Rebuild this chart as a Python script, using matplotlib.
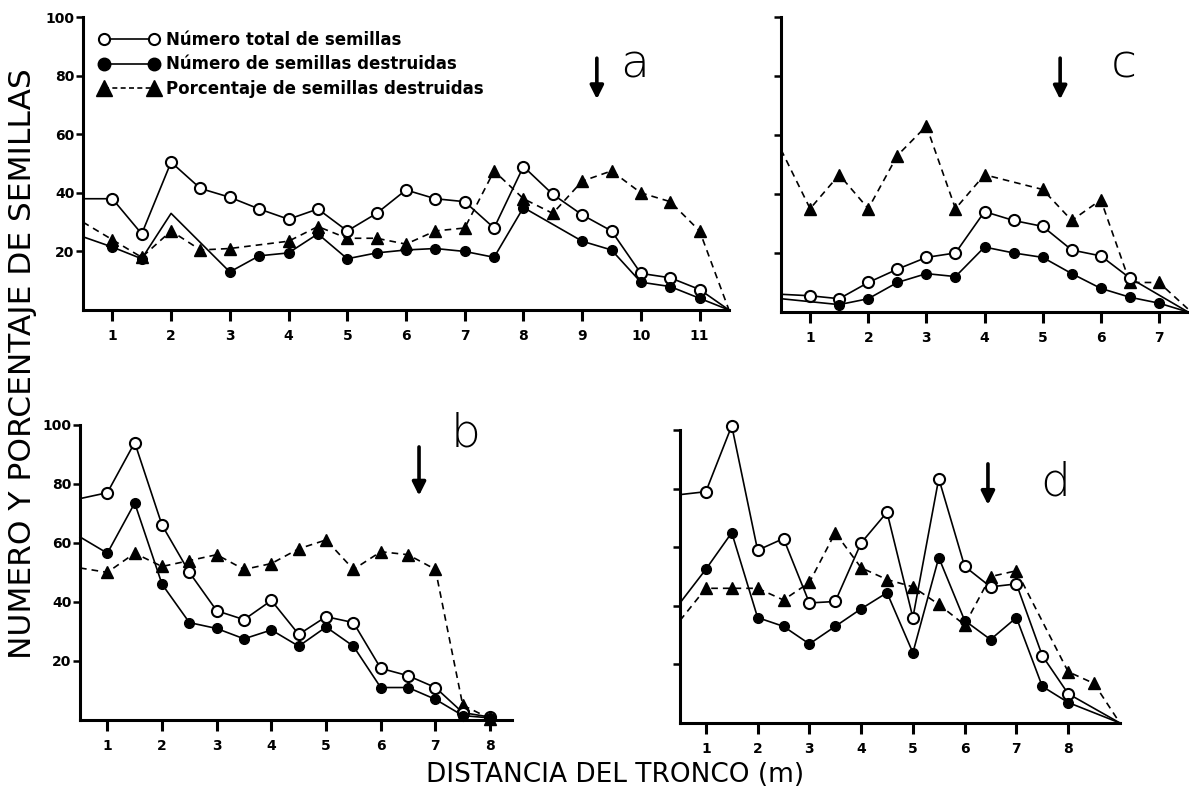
import matplotlib
matplotlib.use('Agg')
import matplotlib.pyplot as plt
from matplotlib.lines import Line2D

# Datos (distancia en m, valores en número / %)
a_x_total = [0.5, 1, 1.5, 2, 2.5, 3, 3.5, 4, 4.5, 5, 5.5, 6, 6.5, 7, 7.5, 8, 8.5, 9, 9.5, 10, 10.5, 11, 11.5]
a_total = [38, 38, 26, 50.5, 41.5, 38.5, 34.5, 31, 34.5, 27, 33, 41, 38, 37, 28, 49, 39.5, 32.5, 27, 12.5, 11, 7, 0]
a_x_dest = [0.5, 1, 1.5, 2, 3, 3.5, 4, 4.5, 5, 5.5, 6, 6.5, 7, 7.5, 8, 9, 9.5, 10, 10.5, 11, 11.5]
a_dest = [25, 21.5, 17.5, 33, 13, 18.5, 19.5, 26, 17.5, 19.5, 20.5, 21, 20, 18, 35, 23.5, 20.5, 9.5, 8, 4, 0]
a_x_pct = [0.5, 1, 1.5, 2, 2.5, 3, 4, 4.5, 5, 5.5, 6, 6.5, 7, 7.5, 8, 8.5, 9, 9.5, 10, 10.5, 11, 11.5]
a_pct = [30, 24, 18, 27, 20.5, 21, 23.5, 28.5, 24.5, 24.5, 22.5, 27, 28, 47.5, 38, 33, 44, 47.5, 40, 37, 27, 0]

b_x = [0.5, 1, 1.5, 2, 2.5, 3, 3.5, 4, 4.5, 5, 5.5, 6, 6.5, 7, 7.5, 8]
b_total = [75, 77, 94, 66, 50, 37, 34, 40.5, 29, 35, 33, 17.5, 15, 11, 2.5, 1]
b_dest = [62, 56.5, 73.5, 46, 33, 31, 27.5, 30.5, 25, 31.5, 25, 11, 11, 7, 1.5, 0.7]
b_pct = [51.5, 50, 56.5, 52, 54, 56, 51, 53, 58, 61, 51, 57, 56, 51, 5, 0.5]

c_x_total = [0.5, 1, 1.5, 2, 2.5, 3, 3.5, 4, 4.5, 5, 5.5, 6, 6.5, 7.5]
c_total = [6, 5.5, 4.5, 10, 14.5, 18.5, 20, 34, 31, 29, 21, 19, 11.5, 0]
c_x_dest = [0.5, 1.5, 2, 2.5, 3, 3.5, 4, 4.5, 5, 5.5, 6, 6.5, 7, 7.5]
c_dest = [4.5, 2.5, 4.5, 10, 13, 12, 22, 20, 18.5, 13, 8, 5, 3, 0]
c_x_pct = [0.5, 1, 1.5, 2, 2.5, 3, 3.5, 4, 5, 5.5, 6, 6.5, 7, 7.5]
c_pct = [55, 35, 46.5, 35, 53, 63, 35, 46.5, 41.5, 31, 38, 10, 10, 1]

d_x = [0.5, 1, 1.5, 2, 2.5, 3, 3.5, 4, 4.5, 5, 5.5, 6, 6.5, 7, 7.5, 8, 9]
d_total = [78, 79, 101.5, 59, 63, 41, 41.5, 61.5, 72, 36, 83.5, 53.5, 46.5, 47.5, 23, 10, 0]
d_dest = [41, 52.5, 65, 36, 33, 27, 33, 39, 44.5, 24, 56.5, 35, 28.5, 36, 12.5, 7, 0]
d_x_pct = [0.5, 1, 1.5, 2, 2.5, 3, 3.5, 4, 4.5, 5, 5.5, 6, 6.5, 7, 8, 8.5, 9]
d_pct = [35, 46, 46, 46, 42, 48, 65, 53, 49, 46.5, 40.5, 33.5, 50, 52, 17.5, 13.5, 0]

# flecha (x, y_arriba, y_abajo) y letra (x, y)
arrows = {'a': (9.25, 86, 72), 'b': (6.7, 92.5, 76), 'c': (5.3, 86, 72), 'd': (6.45, 88.5, 74.5)}
letters = {'a': (9.9, 84), 'b': (7.55, 97), 'c': (6.4, 84), 'd': (7.75, 82)}

leg_labels = ['Número total de semillas', 'Número de semillas destruidas',
              'Porcentaje de semillas destruidas']

fig = plt.figure(figsize=(11.89, 8), dpi=100)

ax_a = fig.add_axes([0.0698, 0.6125, 0.5433, 0.366])
ax_c = fig.add_axes([0.6569, 0.61, 0.3423, 0.369])
ax_b = fig.add_axes([0.0673, 0.10, 0.3633, 0.369])
ax_d = fig.add_axes([0.5719, 0.09625, 0.37, 0.366])


def marks(n, skip_last=True, extra=()):
    end = n - 1 if skip_last else n
    return [i for i in range(1, end) if i not in extra]


def draw(ax, xt, yt, xd, yd, xp, yp, skip_last=True, dest_skip=()):
    ax.plot(xt, yt, color='black', lw=1.2, marker='o', ms=8, mfc='white',
            mec='black', mew=1.5, markevery=marks(len(xt), skip_last), clip_on=False, zorder=3)
    ax.plot(xd, yd, color='black', lw=1.2, marker='o', ms=7, mfc='black',
            mec='black', markevery=marks(len(xd), skip_last, dest_skip), clip_on=False, zorder=3)
    ax.plot(xp, yp, color='black', lw=1.2, ls=(0, (4, 3)), marker='^', ms=8.5,
            mfc='black', mec='black', markevery=marks(len(xp), skip_last), clip_on=False, zorder=2)


draw(ax_a, a_x_total, a_total, a_x_dest, a_dest, a_x_pct, a_pct, dest_skip=(3,))
draw(ax_b, b_x, b_total, b_x, b_dest, b_x, b_pct, skip_last=False)
draw(ax_c, c_x_total, c_total, c_x_dest, c_dest, c_x_pct, c_pct)
draw(ax_d, d_x, d_total, d_x, d_dest, d_x_pct, d_pct)

limits = {'a': (0.5, 11.5, range(1, 12)), 'b': (0.5, 8.4, range(1, 9)),
          'c': (0.5, 7.5, range(1, 8)), 'd': (0.5, 9.0, range(1, 9))}

for name, ax in zip('abcd', [ax_a, ax_b, ax_c, ax_d]):
    x0, x1, xt = limits[name]
    ax.set_xlim(x0, x1)
    ax.set_ylim(0, 100)
    ax.set_xticks(list(xt))
    ax.set_yticks([20, 40, 60, 80, 100])
    for s in ['top', 'right']:
        ax.spines[s].set_visible(False)
    for s in ['left', 'bottom']:
        ax.spines[s].set_linewidth(2.2)
    ax.tick_params(axis='x', direction='out', length=8, width=2.2, labelsize=10, pad=6)
    ax.tick_params(axis='y', direction='out', length=5, width=1.8, labelsize=10, pad=1)
    for lab in ax.get_xticklabels() + ax.get_yticklabels():
        lab.set_fontweight('bold')
    if name in 'cd':
        ax.set_yticklabels([])
    ax.patch.set_alpha(0)
    xa, ytop, ybot = arrows[name]
    ax.annotate('', xy=(xa, ybot), xytext=(xa, ytop),
                arrowprops=dict(arrowstyle='-|>', lw=2.6, color='black', mutation_scale=20,
                                shrinkA=0, shrinkB=0))
    xl, yl = letters[name]
    ax.text(xl, yl, name, fontsize=34, fontweight='light', ha='center', va='center')

handles = [
    Line2D([0], [0], color='black', lw=1.2, marker='o', ms=8, mfc='white', mec='black', mew=1.5),
    Line2D([0], [0], color='black', lw=1.2, marker='o', ms=9, mfc='black', mec='black'),
    Line2D([0], [0], color='black', lw=1.2, ls=(0, (3, 2)), marker='^', ms=11, mfc='black', mec='black'),
]
leg = ax_a.legend(handles, leg_labels, loc='upper left', bbox_to_anchor=(0.02, 0.965),
                  frameon=False, numpoints=2, handlelength=3.6, handletextpad=0.4,
                  labelspacing=0.4, borderaxespad=0, borderpad=0.2,
                  prop={'size': 12, 'weight': 'bold'})

fig.text(0.019, 0.545, 'NUMERO Y PORCENTAJE DE SEMILLAS', rotation=90, fontsize=22.5,
         ha='center', va='center')
fig.text(0.517, 0.031, 'DISTANCIA DEL TRONCO (m)', fontsize=19, ha='center', va='center')

fig.savefig('out.png', dpi=100)
